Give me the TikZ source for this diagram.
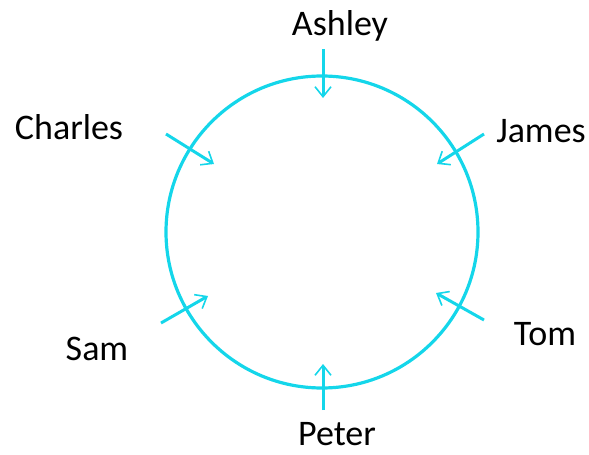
\documentclass[tikz,border=0pt]{standalone}
\usepackage{fontspec}
\setmainfont{Carlito}
\usepackage{tikz}
\usetikzlibrary{arrows.meta}
\definecolor{ringCyan}{HTML}{14D6EA}

\begin{document}
\begin{tikzpicture}[x=1pt, y=-1pt,
    seat/.style={font=\fontsize{36}{41}\selectfont, text=black, inner sep=0pt},
    push/.style={-{Straight Barb[length=10pt, width=16pt, line width=1.6pt]}, line width=3pt, ringCyan}]
  \useasboundingbox (0,0) rectangle (589,455);

  % the table
  \node[circle, draw=ringCyan, line width=3.2pt, minimum size=312pt, inner sep=0pt] (ring) at (322,232) {};

  % seats
  \node[seat] (ashley)  at (340,26)  {Ashley};
  \node[seat] (charles) at (69,127)  {Charles};
  \node[seat] (james)   at (541,131) {James};
  \node[seat] (sam)     at (97,349)  {Sam};
  \node[seat] (tom)     at (545,334) {Tom};
  \node[seat] (peter)   at (337,434) {Peter};

  \coordinate (a0) at (323,49);  \coordinate (a1) at (323,98);
  \coordinate (c0) at (166,134); \coordinate (c1) at (214,164);
  \coordinate (j0) at (484,134); \coordinate (j1) at (437,164);
  \coordinate (s0) at (161,323); \coordinate (s1) at (208,296);
  \coordinate (t0) at (484,320); \coordinate (t1) at (436,293);
  \coordinate (p0) at (323,410); \coordinate (p1) at (323,364);

  \draw[push] (a0) -- (a1);
  \draw[push] (c0) -- (c1);
  \draw[push] (j0) -- (j1);
  \draw[push] (s0) -- (s1);
  \draw[push] (t0) -- (t1);
  \draw[push] (p0) -- (p1);
\end{tikzpicture}
\end{document}
